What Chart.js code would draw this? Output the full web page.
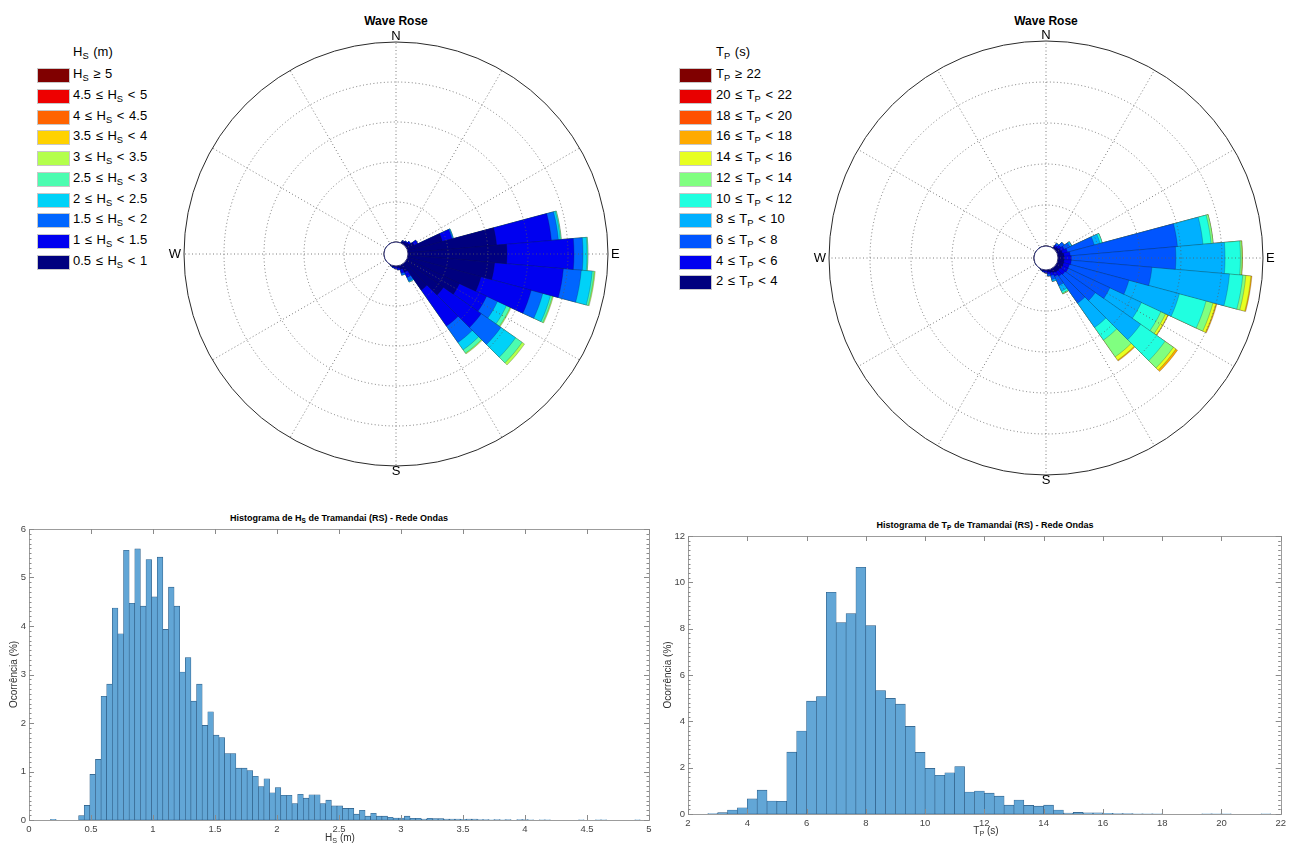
<!DOCTYPE html>
<html>
<head>
<meta charset="utf-8">
<script src="https://cdn.jsdelivr.net/npm/chart.js@4.4.1/dist/chart.umd.min.js"></script>
<style>
body { margin: 0; width: 1290px; height: 843px; background: #fff; position: relative; overflow: hidden;
       font-family: 'Liberation Sans', Arial, Helvetica, sans-serif; color: #000; }
canvas { position: absolute; }
.lbl { position: absolute; white-space: nowrap; line-height: 1; }
.rose-title { font-weight: bold; font-size: 12px; width: 200px; text-align: center; }
.hist-title { font-weight: bold; font-size: 9px; text-align: center; }
.axis-title { font-size: 10px; color: #333; text-align: center; width: 100px; }
sub { font-size: 72%; vertical-align: -0.3em; line-height: 0; }
.leg-box { position: absolute; width: 33px; height: 15px; box-sizing: border-box; border: 1px solid #c8c8c8; }
.leg-text { position: absolute; font-size: 13px; word-spacing: 1px; white-space: nowrap; line-height: 15px; }
</style>
</head>
<body>

<div class="lbl rose-title" style="left:296px; top:15px;">Wave Rose</div>
<div class="lbl rose-title" style="left:946px; top:15px;">Wave Rose</div>
<div id="legendHs"></div>
<div id="legendTp"></div>

<canvas id="roseHs" width="470" height="470" style="left:161px; top:19px;"></canvas>
<canvas id="roseTp" width="480" height="480" style="left:806px; top:18px;"></canvas>

<div class="lbl hist-title" style="left:29px; width:620px; top:514px;">Histograma de H<sub>S</sub> de Tramandai (RS) - Rede Ondas</div>
<div class="lbl hist-title" style="left:688px; width:594px; top:521px;">Histograma de T<sub>P</sub> de Tramandai (RS) - Rede Ondas</div>
<canvas id="histHs" width="665" height="343" style="left:0px; top:500px;"></canvas>
<canvas id="histTp" width="630" height="338" style="left:660px; top:505px;"></canvas>
<div class="lbl axis-title" style="left:290px; top:833px;">H<sub>S</sub> (m)</div>
<div class="lbl axis-title" style="left:936px; top:826px;">T<sub>P</sub> (s)</div>

<script>
// Direction sectors of both roses (degrees, clockwise from North, 10 deg wide)
const roseDirs = [0, 10, 20, 30, 40, 50, 60, 70, 80, 90, 100, 110, 120, 130, 140, 150, 160, 170,
                  180, 190, 200, 210, 220, 230, 240, 250, 260, 270, 280, 290, 300, 310, 320, 330, 340, 350];

// Hs classes (legend, from top)
const hsLegend = ['H<sub>S</sub> \u2265 5', '4.5 \u2264 H<sub>S</sub> &lt; 5', '4 \u2264 H<sub>S</sub> &lt; 4.5',
  '3.5 \u2264 H<sub>S</sub> &lt; 4', '3 \u2264 H<sub>S</sub> &lt; 3.5', '2.5 \u2264 H<sub>S</sub> &lt; 3',
  '2 \u2264 H<sub>S</sub> &lt; 2.5', '1.5 \u2264 H<sub>S</sub> &lt; 2', '1 \u2264 H<sub>S</sub> &lt; 1.5',
  '0.5 \u2264 H<sub>S</sub> &lt; 1'];
const hsColors = ['#800000', '#ee0000', '#ff6400', '#ffd200', '#b4ff4c', '#4cfcb0', '#00d2f8', '#0066ff', '#0000f0', '#00007f'];

// Tp classes (legend, from top)
const tpLegend = ['T<sub>P</sub> \u2265 22', '20 \u2264 T<sub>P</sub> &lt; 22', '18 \u2264 T<sub>P</sub> &lt; 20',
  '16 \u2264 T<sub>P</sub> &lt; 18', '14 \u2264 T<sub>P</sub> &lt; 16', '12 \u2264 T<sub>P</sub> &lt; 14',
  '10 \u2264 T<sub>P</sub> &lt; 12', '8 \u2264 T<sub>P</sub> &lt; 10', '6 \u2264 T<sub>P</sub> &lt; 8',
  '4 \u2264 T<sub>P</sub> &lt; 6', '2 \u2264 T<sub>P</sub> &lt; 4'];
const tpColors = ['#800000', '#e80000', '#ff5000', '#ffaa00', '#e8ff20', '#80ff80', '#20ffe0', '#00b0ff', '#0055ff', '#0000f0', '#00007f'];

// Rose frequencies (%) per direction sector, one array per class (non-empty classes only)
const hsRose05 = [0, 0, 0, 0.2, 0.3, 0.4, 0.8, 3.6, 8.9, 9.9, 8.7, 7.6, 5.8, 4.6, 3.2, 0.8, 0.4, 0.2,
                  0.1, 0.1, 0.1, 0, 0, 0, 0, 0, 0, 0, 0, 0, 0, 0, 0, 0, 0, 0];
const hsRose10 = [0, 0, 0, 0.1, 0.1, 0.2, 0.4, 1.0, 5.5, 6.7, 6.9, 5.2, 3.0, 4.6, 4.4, 0.6, 0.4, 0.2,
                  0.2, 0.1, 0, 0, 0, 0, 0, 0, 0, 0, 0, 0, 0, 0, 0, 0, 0, 0];
const hsRose15 = [0, 0, 0, 0, 0, 0, 0, 0.1, 0.7, 0.9, 1.8, 1.2, 1.2, 2.4, 2.0, 0.4, 0.2, 0,
                  0, 0, 0, 0, 0, 0, 0, 0, 0, 0, 0, 0, 0, 0, 0, 0, 0, 0];
const hsRose20 = [0, 0, 0, 0, 0, 0, 0, 0.05, 0.2, 0.4, 1.1, 0.8, 1.0, 1.8, 0.9, 0.1, 0, 0,
                  0, 0, 0, 0, 0, 0, 0, 0, 0, 0, 0, 0, 0, 0, 0, 0, 0, 0];
const hsRose25 = [0, 0, 0, 0, 0, 0, 0, 0, 0.1, 0.1, 0.2, 0.2, 0.4, 0.8, 0.4, 0, 0, 0,
                  0, 0, 0, 0, 0, 0, 0, 0, 0, 0, 0, 0, 0, 0, 0, 0, 0, 0];
const hsRose30 = [0, 0, 0, 0, 0, 0, 0, 0, 0, 0, 0.1, 0.1, 0.1, 0.3, 0.1, 0, 0, 0,
                  0, 0, 0, 0, 0, 0, 0, 0, 0, 0, 0, 0, 0, 0, 0, 0, 0, 0];

const tpRose2  = [0, 0, 0, 0, 0.2, 0.3, 0.4, 0.5, 0.6, 0.6, 0.6, 0.6, 0.6, 0.5, 0.5, 0.4, 0.3, 0.2,
                  0.1, 0.1, 0.1, 0, 0, 0, 0, 0, 0, 0, 0, 0, 0, 0, 0, 0, 0, 0];
const tpRose4  = [0, 0, 0, 0, 0.2, 0.3, 0.4, 0.5, 0.6, 0.7, 0.7, 0.6, 0.6, 0.6, 0.5, 0.4, 0.3, 0.2,
                  0.2, 0.1, 0, 0, 0, 0, 0, 0, 0, 0, 0, 0, 0, 0, 0, 0, 0, 0];
const tpRose6  = [0, 0, 0, 0, 0.2, 0.4, 0.6, 2.7, 10.5, 10.2, 7.9, 6.0, 4.5, 3.6, 3.2, 1.0, 0.4, 0.2,
                  0, 0, 0, 0, 0, 0, 0, 0, 0, 0, 0, 0, 0, 0, 0, 0, 0, 0];
const tpRose8  = [0, 0, 0, 0, 0, 0, 0.2, 0.6, 2.5, 4.8, 7.6, 5.1, 3.4, 5.4, 2.9, 0.6, 0.2, 0,
                  0, 0, 0, 0, 0, 0, 0, 0, 0, 0, 0, 0, 0, 0, 0, 0, 0, 0];
const tpRose10 = [0, 0, 0, 0, 0, 0, 0, 0.2, 0.8, 1.5, 1.3, 2.7, 2.1, 2.9, 1.5, 0.2, 0, 0,
                  0, 0, 0, 0, 0, 0, 0, 0, 0, 0, 0, 0, 0, 0, 0, 0, 0, 0];
const tpRose12 = [0, 0, 0, 0, 0, 0, 0, 0, 0.2, 0.15, 0.3, 0.7, 0.5, 1.0, 2.0, 0.1, 0, 0,
                  0, 0, 0, 0, 0, 0, 0, 0, 0, 0, 0, 0, 0, 0, 0, 0, 0, 0];
const tpRose14 = [0, 0, 0, 0, 0, 0, 0, 0, 0, 0.05, 0.5, 0.3, 0.25, 0.3, 0.4, 0, 0, 0,
                  0, 0, 0, 0, 0, 0, 0, 0, 0, 0, 0, 0, 0, 0, 0, 0, 0, 0];
const tpRose16 = [0, 0, 0, 0, 0, 0, 0, 0, 0, 0, 0.1, 0.1, 0.05, 0.2, 0.1, 0, 0, 0,
                  0, 0, 0, 0, 0, 0, 0, 0, 0, 0, 0, 0, 0, 0, 0, 0, 0, 0];

// Histogram of Hs: first bin edge, bin width (m) and occurrence (%)
const hsBinStart = 0.1735;
const hsBinWidth = 0.0453;
const hsPercent = [
  0.015, 0, 0, 0, 0, 0.09, 0.30, 0.94, 1.25, 2.55, 2.80, 4.37, 3.84, 5.56, 4.47, 5.59, 4.41, 5.37, 4.60, 5.42,
  3.93, 4.80, 4.41, 3.05, 3.35, 2.45, 2.80, 1.95, 2.23, 1.75, 1.70, 1.37, 1.37, 1.07, 1.07, 1.02, 0.90, 0.69, 0.85, 0.56,
  0.67, 0.51, 0.51, 0.34, 0.53, 0.45, 0.52, 0.52, 0.34, 0.41, 0.29, 0.29, 0.24, 0.24, 0.12, 0.20, 0.08, 0.14, 0.08, 0.08,
  0.055, 0.04, 0.04, 0.08, 0.035, 0.035, 0.02, 0.035, 0.03, 0.03, 0.02, 0.02, 0.02, 0.015, 0.02, 0.02, 0.01, 0.01, 0.005, 0.01,
  0.005, 0.01, 0, 0.01, 0.01, 0.005, 0, 0.005, 0.005, 0, 0, 0, 0, 0, 0.005, 0, 0, 0.005, 0.005, 0,
  0, 0, 0, 0, 0.005
];

// Histogram of Tp: first bin edge, bin width (s) and occurrence (%)
const tpBinStart = 2;
const tpBinWidth = 1 / 3;
const tpPercent = [
  0, 0, 0.02, 0.06, 0.17, 0.27, 0.65, 1.03, 0.56, 0.55, 2.67, 3.58, 4.87, 5.07, 9.57, 8.26, 8.65, 10.65, 8.13, 5.33,
  4.99, 4.74, 3.78, 2.66, 1.97, 1.67, 1.78, 2.05, 0.95, 0.99, 0.90, 0.77, 0.38, 0.60, 0.37, 0.34, 0.38, 0.17, 0.04, 0.07,
  0.05, 0.05, 0.03, 0.02, 0.02, 0.01, 0.005, 0.005, 0, 0, 0, 0, 0.005, 0.005, 0.005, 0, 0, 0, 0.005, 0
];

const hsTicksX = [0, 0.5, 1, 1.5, 2, 2.5, 3, 3.5, 4, 4.5, 5];
const tpTicksX = [2, 4, 6, 8, 10, 12, 14, 16, 18, 20, 22];

Chart.defaults.font.family = "'Liberation Sans', Arial, Helvetica, sans-serif";

// Legends
function buildLegend(holderId, title, labels, colors, boxLeft, textLeft) {
    const holder = document.getElementById(holderId);
    const head = document.createElement('div');
    head.className = 'leg-text';
    head.style.left = textLeft + 'px';
    head.style.top = '44px';
    head.innerHTML = title;
    holder.appendChild(head);
    labels.forEach((txt, i) => {
        const top = 68.3 + 20.7 * i;
        const box = document.createElement('div');
        box.className = 'leg-box';
        box.style.left = boxLeft + 'px';
        box.style.top = top + 'px';
        box.style.background = colors[i];
        holder.appendChild(box);
        const t = document.createElement('div');
        t.className = 'leg-text';
        t.style.left = textLeft + 'px';
        t.style.top = (top - 2) + 'px';
        t.innerHTML = txt;
        holder.appendChild(t);
    });
}
buildLegend('legendHs', 'H<sub>S</sub> (m)', hsLegend, hsColors, 37, 73);
buildLegend('legendTp', 'T<sub>P</sub> (s)', tpLegend, tpColors, 679, 716);

// Rings, spokes, outer circle, centre disc and compass letters
const roseFrame = {
    id: 'roseFrame',
    afterDraw(chart, args, opts) {
        const s = chart.scales.r;
        const ctx = chart.ctx;
        const cx = s.xCenter, cy = s.yCenter, R = s.drawingArea;
        ctx.save();
        ctx.strokeStyle = '#5a5a5a';
        ctx.lineWidth = 0.8;
        ctx.setLineDash([1, 2.5]);
        opts.rings.forEach(v => {
            ctx.beginPath();
            ctx.arc(cx, cy, s.getDistanceFromCenterForValue(v), 0, Math.PI * 2);
            ctx.stroke();
        });
        for (let a = 0; a < 360; a += 30) {
            const t = (a - 90) * Math.PI / 180;
            ctx.beginPath();
            ctx.moveTo(cx, cy);
            ctx.lineTo(cx + R * Math.cos(t), cy + R * Math.sin(t));
            ctx.stroke();
        }
        ctx.setLineDash([]);
        ctx.strokeStyle = '#2a2a2a';
        ctx.lineWidth = 1;
        ctx.beginPath();
        ctx.arc(cx, cy, R, 0, Math.PI * 2);
        ctx.stroke();

        const r0 = s.getDistanceFromCenterForValue(0);
        ctx.fillStyle = '#fff';
        ctx.strokeStyle = '#3c3c78';
        ctx.beginPath();
        ctx.arc(cx, cy, r0, 0, Math.PI * 2);
        ctx.fill();
        ctx.stroke();

        ctx.fillStyle = '#000';
        ctx.font = "13px 'Liberation Sans', Arial, sans-serif";
        ctx.textAlign = 'center';
        ctx.textBaseline = 'alphabetic';
        ctx.fillText('N', cx, cy - R - 2);
        ctx.fillText('S', cx, cy + R + 9);
        ctx.textBaseline = 'middle';
        ctx.textAlign = 'left';
        ctx.fillText('E', cx + R + 3, cy);
        ctx.textAlign = 'right';
        ctx.fillText('W', cx - R - 3, cy);
        ctx.restore();
    }
};

function stackRose(classes, colors) {
    // running sums so each class is drawn as a band on top of the previous ones
    let run = roseDirs.map(() => 0);
    return classes.map((c, k) => {
        run = run.map((v, i) => v + c[i]);
        return {
            data: run,
            backgroundColor: colors[k],
            borderColor: 'rgba(20, 20, 45, 0.45)',
            borderWidth: 0.5
        };
    });
}

function makeRose(id, classes, colors, offsetPx, radiusPx) {
    const ringStep = 4;
    const maxVal = ringStep * 5;
    const minVal = -offsetPx * maxVal / (radiusPx - offsetPx);
    return new Chart(document.getElementById(id), {
        type: 'polarArea',
        data: { labels: roseDirs.map(String), datasets: stackRose(classes, colors) },
        options: {
            responsive: false,
            animation: false,
            layout: { padding: 23 },
            plugins: {
                legend: { display: false },
                tooltip: { enabled: false },
                roseFrame: { rings: [4, 8, 12, 16] }
            },
            scales: {
                r: {
                    min: minVal,
                    max: maxVal,
                    startAngle: -5,
                    ticks: { display: false, stepSize: ringStep },
                    grid: { display: false },
                    angleLines: { display: false },
                    pointLabels: { display: false }
                }
            }
        },
        plugins: [roseFrame]
    });
}

makeRose('roseHs', [hsRose05, hsRose10, hsRose15, hsRose20, hsRose25, hsRose30],
         ['#00007f', '#0000f0', '#0066ff', '#00d2f8', '#4cfcb0', '#b4ff4c'], 12, 212);
makeRose('roseTp', [tpRose2, tpRose4, tpRose6, tpRose8, tpRose10, tpRose12, tpRose14, tpRose16],
         ['#00007f', '#0000f0', '#0055ff', '#00b0ff', '#20ffe0', '#80ff80', '#e8ff20', '#ffaa00'], 12, 217);

// MATLAB-like box with inward ticks
const boxTicks = {
    id: 'boxTicks',
    afterDraw(chart, args, opts) {
        const { ctx, chartArea: a } = chart;
        const x = chart.scales.x, y = chart.scales.y;
        ctx.save();
        ctx.strokeStyle = '#9c9c9c';
        ctx.lineWidth = 1;
        ctx.strokeRect(Math.round(a.left) + 0.5, Math.round(a.top) + 0.5,
                       Math.round(a.right - a.left), Math.round(a.bottom - a.top));
        ctx.strokeStyle = '#8a8a8a';
        ctx.beginPath();
        x.ticks.forEach(t => {
            const px = Math.round(x.getPixelForValue(t.value)) + 0.5;
            ctx.moveTo(px, a.bottom); ctx.lineTo(px, a.bottom - 5);
            ctx.moveTo(px, a.top); ctx.lineTo(px, a.top + 5);
        });
        y.ticks.forEach(t => {
            const py = Math.round(y.getPixelForValue(t.value)) + 0.5;
            ctx.moveTo(a.left, py); ctx.lineTo(a.left + 5, py);
            ctx.moveTo(a.right, py); ctx.lineTo(a.right - 5, py);
        });
        const n = Math.round((y.max - y.min) / opts.minor);
        for (let i = 1; i < n; i++) {
            const py = Math.round(y.getPixelForValue(y.min + i * opts.minor)) + 0.5;
            ctx.moveTo(a.left, py); ctx.lineTo(a.left + 2.5, py);
            ctx.moveTo(a.right, py); ctx.lineTo(a.right - 2.5, py);
        }
        ctx.stroke();
        ctx.restore();
    }
};

function makeHist(id, start, width, values, xTicks, yMax, yStep, minor, pad, yW, xH, titlePad) {
    const points = values.map((v, i) => ({ x: start + (i + 0.5) * width, y: v }));
    return new Chart(document.getElementById(id), {
        type: 'bar',
        data: {
            datasets: [{
                data: points,
                backgroundColor: '#62a6d6',
                borderColor: '#2c5a82',
                borderWidth: 0.6,
                borderSkipped: false,
                barPercentage: 1,
                categoryPercentage: 1
            }]
        },
        options: {
            responsive: false,
            animation: false,
            layout: { padding: pad },
            plugins: {
                legend: { display: false },
                tooltip: { enabled: false },
                boxTicks: { minor: minor }
            },
            scales: {
                x: {
                    type: 'linear',
                    offset: false,
                    min: xTicks[0],
                    max: xTicks[xTicks.length - 1],
                    grid: { display: false, drawTicks: false },
                    border: { display: false },
                    afterBuildTicks: s => { s.ticks = xTicks.map(v => ({ value: v })); },
                    ticks: { color: '#444', font: { size: 9.5 }, padding: 4, maxRotation: 0, autoSkip: false,
                             callback: v => String(v) },
                    afterFit: s => { s.height = xH; }
                },
                y: {
                    min: 0,
                    max: yMax,
                    grid: { display: false, drawTicks: false },
                    border: { display: false },
                    ticks: { stepSize: yStep, color: '#444', font: { size: 9.5 }, padding: 3 },
                    title: { display: true, text: 'Ocorrência (%)', color: '#333', font: { size: 10 },
                             padding: { top: titlePad, bottom: 0 } },
                    afterFit: s => { s.width = yW; }
                }
            }
        },
        plugins: [boxTicks]
    });
}

makeHist('histHs', hsBinStart, hsBinWidth, hsPercent, hsTicksX, 6, 1, 0.1,
         { top: 29, right: 16, left: 0, bottom: 0 }, 29, 23, 8);
makeHist('histTp', tpBinStart, tpBinWidth, tpPercent, tpTicksX, 12, 2, 0.2,
         { top: 31, right: 8, left: 0, bottom: 0 }, 28, 29, 2);
</script>
</body>
</html>
